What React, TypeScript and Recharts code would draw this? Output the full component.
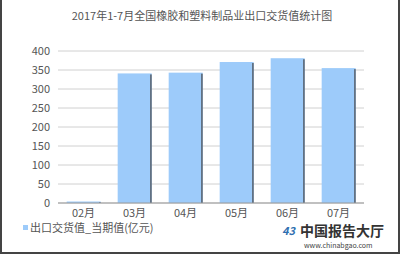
import { BarChart, Bar, XAxis, YAxis, CartesianGrid } from 'recharts';

const months = ['02月', '03月', '04月', '05月', '06月', '07月'];
const exportValues = [3, 341, 343, 371, 381, 355];
const yTicks = [0, 50, 100, 150, 200, 250, 300, 350, 400];

const data = months.map((m, i) => ({ month: m, value: exportValues[i] }));

const font = '"Noto Sans CJK SC", "Noto Sans", sans-serif';

// bar with the little dark edge on its right side
function ShadowBar(props: any) {
  const { x, y, width, height } = props;
  if (height == null || height < 0) return null;
  const h = Math.max(height, 1.5);
  const top = y + height - h;
  return (
    <g>
      <rect x={x} y={top} width={width} height={h} fill="#9DCBFA" />
      <rect x={x + width - 1.5} y={top + Math.min(1, h / 2)} width={1.5} height={h - Math.min(1, h / 2)} fill="#56606B" />
    </g>
  );
}

export default function App() {
  return (
    <div
      style={{
        position: 'absolute',
        left: 0,
        top: 0,
        width: 400,
        height: 254,
        background: '#fff',
        boxSizing: 'border-box',
        borderLeft: '2px solid #444',
        borderRight: '2px solid #444',
        borderBottom: '2px solid #444',
        fontFamily: font,
      }}
    >
      <div
        style={{
          position: 'absolute',
          left: 0,
          top: 7,
          width: 400,
          textAlign: 'center',
          fontSize: 11,
          color: '#555',
        }}
      >
        2017年1-7月全国橡胶和塑料制品业出口交货值统计图
      </div>
      <div style={{ position: 'absolute', left: -2, top: 0 }}>
        <BarChart
          width={400}
          height={254}
          data={data}
          margin={{ top: 51, right: 36, left: 0, bottom: 37 }}
          barCategoryGap="17%"
        >
          <CartesianGrid vertical={false} stroke="#D0D0D0" />
          <XAxis
            dataKey="month"
            tickLine={false}
            axisLine={{ stroke: '#999' }}
            height={14}
            tick={{ fontSize: 11, fill: '#555', fontFamily: font }}
            tickMargin={0}
          />
          <YAxis
            domain={[0, 400]}
            ticks={yTicks}
            width={58}
            axisLine={false}
            tickLine={false}
            tickMargin={2}
            tick={{ fontSize: 11, fill: '#555', fontFamily: font }}
            interval={0}
          />
          <Bar dataKey="value" shape={ShadowBar} isAnimationActive={false} />
        </BarChart>
      </div>
      <div
        style={{
          position: 'absolute',
          left: 21,
          top: 220,
          fontSize: 11,
          lineHeight: '14px',
          color: '#555',
          display: 'flex',
          alignItems: 'center',
        }}
      >
        <span style={{ display: 'inline-block', width: 5, height: 5, background: '#9DCBFA', marginRight: 2 }} />
        出口交货值_当期值(亿元)
      </div>
      <div style={{ position: 'absolute', left: 280, top: 223, width: 112, lineHeight: '14px' }}>
        <div style={{ display: 'flex', alignItems: 'center', height: 14 }}>
          <span style={{ fontSize: 11, lineHeight: '14px', fontStyle: 'italic', color: '#2F6FB0', fontWeight: 'bold', marginRight: 5 }}>
            43
          </span>
          <span style={{ fontSize: 14, lineHeight: '14px', color: '#333', fontWeight: 'bold' }}>中国报告大厅</span>
        </div>
        <div style={{ fontSize: 7, lineHeight: '8px', color: '#444', marginLeft: 22, marginTop: 4 }}>www.chinabgao.com</div>
      </div>
    </div>
  );
}
